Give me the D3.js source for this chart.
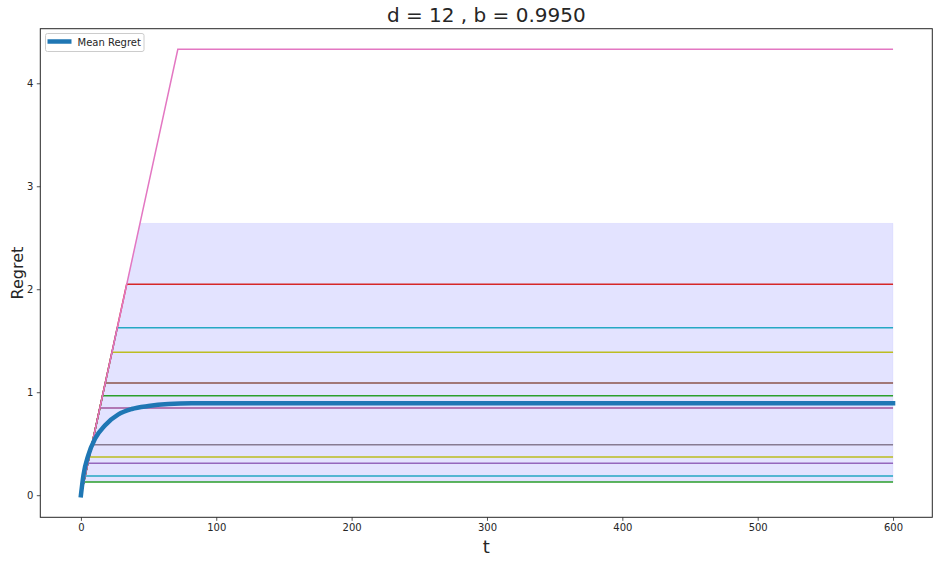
<!DOCTYPE html>
<html>
<head>
<meta charset="utf-8">
<script src="https://cdn.jsdelivr.net/npm/d3@7"></script>
<style>
  html, body { margin: 0; padding: 0; background: #fff; }
  svg { display: block; }
  text { font-family: "DejaVu Sans", sans-serif; fill: #262626; }
</style>
</head>
<body>
<svg id="chart" width="939" height="563"></svg>
<script>
// ---- data ----
const title = "d = 12 , b = 0.9950";
const xLabel = "t";
const yLabel = "Regret";
const legendLabel = "Mean Regret";
const xTicks = [0, 100, 200, 300, 400, 500, 600];
const yTicks = [0, 1, 2, 3, 4];
const tEnd = 600;

// individual runs: final regret and the t at which they stop rising
const runColors = ["#2ca02c", "#25a8c4", "#9467bd", "#bcbd22", "#877b92", "#a1559c", "#2ca02c", "#8c564b", "#bcbd22", "#25a8c4", "#d62728", "#e377c2"];
const runFinal  = [0.128, 0.186, 0.310, 0.371, 0.490, 0.846, 0.966, 1.090, 1.388, 1.627, 2.048, 4.330];
const runBreakT = [2.1, 3.1, 5.1, 6.1, 8.1, 14.0, 16.0, 18.0, 22.9, 26.9, 33.8, 71.6];

// mean regret curve
const meanT = [0, 1.9, 5.5, 10.5, 17.9, 27.7, 37.6, 49.9, 64.6, 81.9, 600];
const meanV = [0, 0.196, 0.39, 0.55, 0.68, 0.785, 0.837, 0.866, 0.885, 0.892, 0.892];

// shaded band (lower / upper)
const bandT  = [0, 2.1, 43.6, 600];
const bandLo = [0, 0.128, 0.128, 0.128];
const bandHi = [0, 0.128, 2.640, 2.640];

// ---- layout ----
const L = 40.3, R = 932.3, T = 28.7, B = 517.3;
const svg = d3.select("#chart");
const x = d3.scaleLinear().domain([-30, 629]).range([L, R]);
const y = d3.scaleLinear().domain([-0.2146, 4.530]).range([B, T]);

// band
const bandData = bandT.map((t, i) => ({t, lo: bandLo[i], hi: bandHi[i]}));
svg.append("path")
  .datum(bandData)
  .attr("d", d3.area().x(d => x(d.t)).y0(d => y(d.lo)).y1(d => y(d.hi)))
  .attr("fill", "#0000ff").attr("fill-opacity", 0.11)
  .attr("stroke", "#0000ff").attr("stroke-opacity", 0.04).attr("stroke-width", 1);

// runs
const line = d3.line().x(d => x(d[0])).y(d => y(d[1]));
runFinal.forEach((v, i) => {
  const pts = [[0, 0], [runBreakT[i], v], [tEnd, v]];
  svg.append("path")
    .datum(pts)
    .attr("d", line)
    .attr("fill", "none")
    .attr("stroke", runColors[i])
    .attr("stroke-width", 1.5);
});

// mean
const meanData = meanT.map((t, i) => [t, meanV[i]]);
svg.append("path")
  .datum(meanData)
  .attr("d", d3.line().x(d => x(d[0])).y(d => y(d[1])).curve(d3.curveMonotoneX))
  .attr("fill", "none")
  .attr("stroke", "#1f77b4")
  .attr("stroke-width", 4.5)
  .attr("stroke-linecap", "square");

// axes
const xAxis = d3.axisBottom(x).tickValues(xTicks).tickSize(3.5).tickPadding(3.5).tickFormat(d3.format("d"));
const yAxis = d3.axisLeft(y).tickValues(yTicks).tickSize(3.5).tickPadding(3.5).tickFormat(d3.format("d"));
const gx = svg.append("g").attr("transform", `translate(0,${B})`).call(xAxis);
const gy = svg.append("g").attr("transform", `translate(${L},0)`).call(yAxis);
[gx, gy].forEach(g => {
  g.select(".domain").remove();
  g.selectAll(".tick line").attr("stroke", "#262626").attr("stroke-width", 0.8);
  g.selectAll(".tick text").attr("font-size", 10).attr("font-family", "DejaVu Sans").attr("fill", "#262626");
});

// frame
svg.append("rect")
  .attr("x", L).attr("y", T).attr("width", R - L).attr("height", B - T)
  .attr("fill", "none").attr("stroke", "#262626").attr("stroke-width", 1);

// labels
svg.append("text").attr("x", (L + R) / 2).attr("y", 21.5)
  .attr("text-anchor", "middle").attr("font-size", 20).text(title);
svg.append("text").attr("x", (L + R) / 2).attr("y", 553)
  .attr("text-anchor", "middle").attr("font-size", 18).text(xLabel);
svg.append("text")
  .attr("transform", `translate(22.5,${(T + B) / 2}) rotate(-90)`)
  .attr("text-anchor", "middle").attr("font-size", 16).text(yLabel);

// legend
const lg = svg.append("g");
lg.append("rect").attr("x", 45.5).attr("y", 33.5).attr("width", 98.5).attr("height", 18)
  .attr("rx", 2).attr("fill", "#fff").attr("fill-opacity", 0.8)
  .attr("stroke", "#cccccc").attr("stroke-width", 1);
lg.append("line").attr("x1", 47.5).attr("x2", 71.5).attr("y1", 41.5).attr("y2", 41.5)
  .attr("stroke", "#1f77b4").attr("stroke-width", 4.5);
lg.append("text").attr("x", 77.5).attr("y", 45.5).attr("font-size", 10).text(legendLabel);
</script>
</body>
</html>
